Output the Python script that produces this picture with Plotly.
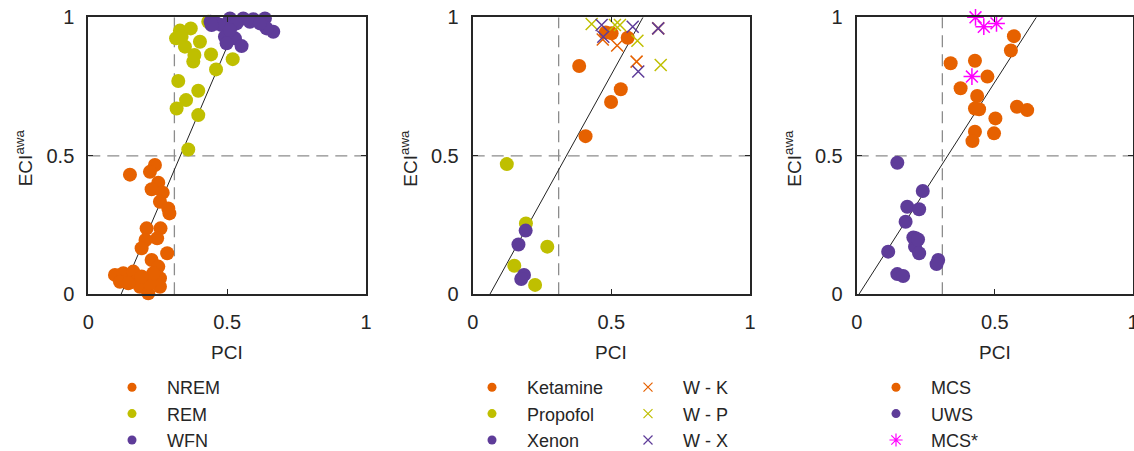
import plotly.graph_objects as go

# ---------------- data ----------------
# Panel 1: sleep
nrem_pci = [0.150, 0.240, 0.222, 0.252, 0.228, 0.268, 0.258, 0.288, 0.292, 0.210, 0.260, 0.248,
            0.206, 0.192, 0.284, 0.228, 0.252, 0.096, 0.126, 0.114, 0.162, 0.168, 0.186, 0.216,
            0.258, 0.258, 0.222, 0.234, 0.192, 0.144]
nrem_eci = [0.432, 0.467, 0.442, 0.403, 0.379, 0.367, 0.334, 0.310, 0.292, 0.238, 0.238, 0.202,
            0.196, 0.166, 0.148, 0.124, 0.100, 0.070, 0.076, 0.045, 0.082, 0.045, 0.027, 0.004,
            0.058, 0.027, 0.040, 0.076, 0.064, 0.040]
rem_pci = [0.360, 0.396, 0.318, 0.352, 0.396, 0.324, 0.460, 0.378, 0.382, 0.442, 0.520, 0.402,
           0.348, 0.316, 0.330, 0.369, 0.432, 0.336]
rem_eci = [0.523, 0.647, 0.671, 0.701, 0.735, 0.770, 0.812, 0.840, 0.864, 0.866, 0.849, 0.912,
           0.894, 0.924, 0.952, 0.960, 0.984, 0.930]
wfn_pci = [0.440, 0.462, 0.510, 0.558, 0.594, 0.636, 0.666, 0.642, 0.492, 0.528, 0.552, 0.498,
           0.480, 0.444, 0.534, 0.582, 0.618, 0.510]
wfn_eci = [0.984, 0.978, 0.996, 0.996, 0.993, 0.996, 0.948, 0.960, 0.930, 0.924, 0.896, 0.906,
           0.972, 0.972, 0.978, 0.984, 0.978, 0.954]
fit1_pci = [0.118, 0.545]
fit1_eci = [0.0, 1.0]

# Panel 2: anaesthesia
ket_pci = [0.384, 0.534, 0.499, 0.407, 0.501, 0.559, 0.480]
ket_eci = [0.824, 0.740, 0.694, 0.571, 0.942, 0.926, 0.945]
pro_pci = [0.123, 0.192, 0.269, 0.150, 0.225]
pro_eci = [0.470, 0.256, 0.172, 0.103, 0.034]
xen_pci = [0.191, 0.165, 0.185, 0.175]
xen_eci = [0.230, 0.180, 0.070, 0.055]
wk_pci = [0.469, 0.521, 0.591, 0.669]
wk_eci = [0.920, 0.898, 0.840, 0.960]
wp_pci = [0.429, 0.513, 0.531, 0.594, 0.678]
wp_eci = [0.976, 0.972, 0.972, 0.915, 0.828]
wx_pci = [0.465, 0.471, 0.577, 0.669, 0.597]
wx_eci = [0.972, 0.930, 0.966, 0.960, 0.804]
fit2_pci = [0.062, 0.614]
fit2_eci = [0.0, 1.0]

# Panel 3: patients
mcs_pci = [0.569, 0.558, 0.340, 0.428, 0.473, 0.376, 0.436, 0.428, 0.443, 0.580, 0.617, 0.502,
           0.428, 0.497, 0.419]
mcs_eci = [0.932, 0.880, 0.834, 0.843, 0.786, 0.744, 0.716, 0.671, 0.668, 0.677, 0.665, 0.635,
           0.587, 0.581, 0.553]
uws_pci = [0.147, 0.239, 0.183, 0.226, 0.177, 0.214, 0.211, 0.226, 0.114, 0.295, 0.289, 0.147,
           0.168, 0.205, 0.222]
uws_eci = [0.475, 0.373, 0.316, 0.307, 0.262, 0.202, 0.172, 0.148, 0.154, 0.124, 0.109, 0.073,
           0.066, 0.205, 0.198]
mcss_pci = [0.430, 0.460, 0.506, 0.417]
mcss_eci = [1.000, 0.966, 0.978, 0.786]
fit3_pci = [0.008, 0.650]
fit3_eci = [0.0, 1.0]

pci_threshold = 0.31
eci_threshold = 0.5
tick_vals = [0, 0.5, 1]
tick_text = ["0", "0.5", "1"]
x_title = "PCI"
y_title = "ECI<sup>awa</sup>"

# ---------------- style ----------------
ORANGE = "#E66100"
YELLOW = "#BFBF00"
PURPLE = "#5E3C99"
MAGENTA = "#FF00FF"
FONT = "Liberation Sans"
TXT = "#262626"
W, H = 1134, 451

fig = go.Figure()

def circles(x, y, color, name, ax, legend):
    fig.add_trace(go.Scatter(x=x, y=y, mode="markers", xaxis="x" + ax, yaxis="y" + ax,
                             marker=dict(size=14, color=color), cliponaxis=False,
                             showlegend=False, hoverinfo="x+y", name=name))
    fig.add_trace(go.Scatter(x=[None], y=[None], mode="markers", xaxis="x" + ax, yaxis="y" + ax,
                             marker=dict(size=9, color=color), name=name, legend=legend))

def crosses(x, y, color, name, ax, legend, symbol="x-thin-open", size=12, lw=1.5, lsize=9):
    fig.add_trace(go.Scatter(x=x, y=y, mode="markers", xaxis="x" + ax, yaxis="y" + ax,
                             marker=dict(size=size, symbol=symbol, color=color,
                                         line=dict(color=color, width=lw)),
                             cliponaxis=False, showlegend=False, name=name))
    fig.add_trace(go.Scatter(x=[None], y=[None], mode="markers", xaxis="x" + ax, yaxis="y" + ax,
                             marker=dict(size=lsize, symbol=symbol, color=color,
                                         line=dict(color=color, width=1.2)),
                             name=name, legend=legend))

def fitline(x, y, ax):
    fig.add_trace(go.Scatter(x=x, y=y, mode="lines", xaxis="x" + ax, yaxis="y" + ax,
                             line=dict(color="#222222", width=1), showlegend=False,
                             hoverinfo="skip"))

# panel 1
fitline(fit1_pci, fit1_eci, "")
circles(nrem_pci, nrem_eci, ORANGE, "NREM", "", "legend")
circles(rem_pci, rem_eci, YELLOW, "REM", "", "legend")
circles(wfn_pci, wfn_eci, PURPLE, "WFN", "", "legend")
# panel 2
fitline(fit2_pci, fit2_eci, "2")
circles(ket_pci, ket_eci, ORANGE, "Ketamine", "2", "legend2")
circles(pro_pci, pro_eci, YELLOW, "Propofol", "2", "legend2")
circles(xen_pci, xen_eci, PURPLE, "Xenon", "2", "legend2")
crosses(wk_pci, wk_eci, ORANGE, "W - K", "2", "legend3")
crosses(wp_pci, wp_eci, YELLOW, "W - P", "2", "legend3")
crosses(wx_pci, wx_eci, PURPLE, "W - X", "2", "legend3")
# panel 3
fitline(fit3_pci, fit3_eci, "3")
circles(mcs_pci, mcs_eci, ORANGE, "MCS", "3", "legend4")
circles(uws_pci, uws_eci, PURPLE, "UWS", "3", "legend4")
crosses(mcss_pci, mcss_eci, MAGENTA, "MCS*", "3", "legend4", symbol="asterisk-open", size=14,
        lw=1.5, lsize=11)

# threshold lines
for ax in ["", "2", "3"]:
    xr = "x" + ax
    yr = "y" + ax
    fig.add_shape(type="line", xref=xr, yref=yr, x0=pci_threshold, x1=pci_threshold, y0=0, y1=1,
                  line=dict(color="#8C8C8C", width=1.3, dash="12px,7px"), layer="below")
    fig.add_shape(type="line", xref=xr, yref=yr, x0=0, x1=1, y0=eci_threshold, y1=eci_threshold,
                  line=dict(color="#8C8C8C", width=1.3, dash="12px,7px"), layer="below")

px_x = [(88.3, 366.0), (472.7, 750.0), (856.7, 1133.0)]
ytop, ybot = 17.3, 294.3
ydom = [1 - ybot / H, 1 - ytop / H]

axcommon = dict(range=[0, 1], tickvals=tick_vals, ticktext=tick_text, ticks="inside", ticklen=5,
                tickwidth=1.3, tickcolor=TXT, showline=True, linecolor=TXT, linewidth=2,
                mirror="ticks", showgrid=False, zeroline=False, ticklabeloverflow="allow",
                tickfont=dict(family=FONT, size=20, color=TXT))

layout = dict(width=W, height=H, margin=dict(l=0, r=0, t=0, b=0, autoexpand=False),
              plot_bgcolor="white", paper_bgcolor="white",
              font=dict(family=FONT, size=18, color=TXT))
annotations = []
for i, ax in enumerate(["", "2", "3"]):
    x0, x1 = px_x[i]
    layout["xaxis" + ax] = dict(axcommon, domain=[x0 / W, x1 / W], anchor="y" + ax,
                                ticklabelstandoff=9)
    layout["yaxis" + ax] = dict(axcommon, domain=ydom, anchor="x" + ax,
                                ticklabelstandoff=8)
    annotations.append(dict(text=x_title, xref="paper", yref="paper",
                            x=(x0 + x1) / 2 / W, y=1 - 352 / H, xanchor="center", yanchor="middle",
                            showarrow=False, font=dict(family=FONT, size=19, color=TXT)))
    annotations.append(dict(text=y_title, xref="paper", yref="paper", textangle=-90,
                            x=(x0 - 64) / W, y=1 - 158 / H, xanchor="center", yanchor="middle",
                            showarrow=False, font=dict(family=FONT, size=19, color=TXT)))
layout["annotations"] = annotations

legend_common = dict(font=dict(family=FONT, size=18, color=TXT), bgcolor="rgba(0,0,0,0)",
                     xanchor="left", yanchor="top", yref="container", xref="container",
                     orientation="v", tracegroupgap=0, itemwidth=60)
ly = 1 - 369 / H
layout["legend"] = dict(legend_common, x=97 / W, y=ly)
layout["legend2"] = dict(legend_common, x=457 / W, y=1 - 369 / H)
layout["legend3"] = dict(legend_common, x=613 / W, y=1 - 369 / H)
layout["legend4"] = dict(legend_common, x=861 / W, y=ly)

fig.update_layout(**layout)

fig.write_html("out.html", config={"displayModeBar": False},
               post_script="document.body.style.margin='0';")
